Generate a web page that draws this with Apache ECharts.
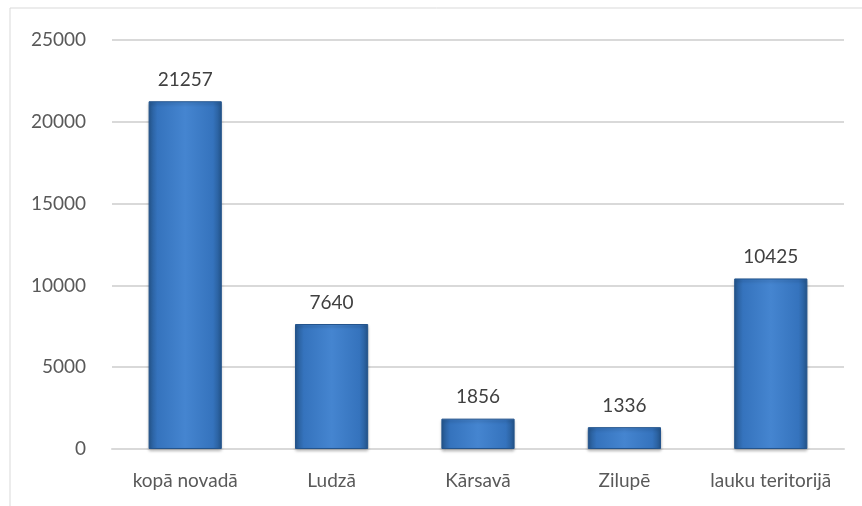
<!DOCTYPE html>
<html>
<head>
<meta charset="utf-8">
<script src="https://cdn.jsdelivr.net/npm/echarts@6/dist/echarts.min.js"></script>
<style>
  html, body { margin: 0; padding: 0; background: #fff; }
  #chart { width: 862px; height: 506px; }
</style>
</head>
<body>
<div id="chart"></div>
<script>
const categories = ['kopā novadā', 'Ludzā', 'Kārsavā', 'Zilupē', 'lauku teritorijā']
const values = [21257, 7640, 1856, 1336, 10425]
const yTicks = [0, 5000, 10000, 15000, 20000, 25000]

const myChart = echarts.init(document.getElementById('chart'))

// bar fill: darker at the sides, lighter in the middle
const barFill = new echarts.graphic.LinearGradient(0, 0, 1, 0, [
  { offset: 0, color: '#25578f' },
  { offset: 0.12, color: '#3573bd' },
  { offset: 0.5, color: '#4585d0' },
  { offset: 0.88, color: '#3573bd' },
  { offset: 1, color: '#25578f' }
])

const options = {
  animation: false,
  textStyle: { fontFamily: 'Lato, "Open Sans", sans-serif' },
  graphic: [
    {
      type: 'rect',
      shape: { x: 10, y: 8, width: 900, height: 600 },
      style: { fill: 'none', stroke: '#d9d9d9', lineWidth: 1 },
      silent: true
    }
  ],
  grid: { left: 112, right: 18, top: 40, bottom: 57 },
  xAxis: {
    type: 'category',
    data: categories,
    axisLine: { show: true, lineStyle: { color: '#d9d9d9', width: 2 } },
    axisTick: { show: false },
    axisLabel: { color: '#595959', fontSize: 19, margin: 22, interval: 0 }
  },
  yAxis: {
    type: 'value',
    min: yTicks[0],
    max: yTicks[yTicks.length - 1],
    interval: 5000,
    axisLine: { show: false },
    axisTick: { show: false },
    axisLabel: { color: '#595959', fontSize: 19, margin: 26, formatter: v => String(v) },
    splitLine: { lineStyle: { color: '#d9d9d9', width: 2 } }
  },
  series: [
    {
      type: 'bar',
      data: values,
      barWidth: '50%',
      itemStyle: {
        color: barFill,
        borderColor: '#24548c',
        borderWidth: 1,
        shadowColor: 'rgba(0,0,0,0.25)',
        shadowBlur: 3,
        shadowOffsetY: 2
      },
      label: {
        show: true,
        position: 'top',
        distance: 12,
        color: '#404040',
        fontSize: 19
      }
    }
  ]
}

myChart.setOption(options)
</script>
</body>
</html>
